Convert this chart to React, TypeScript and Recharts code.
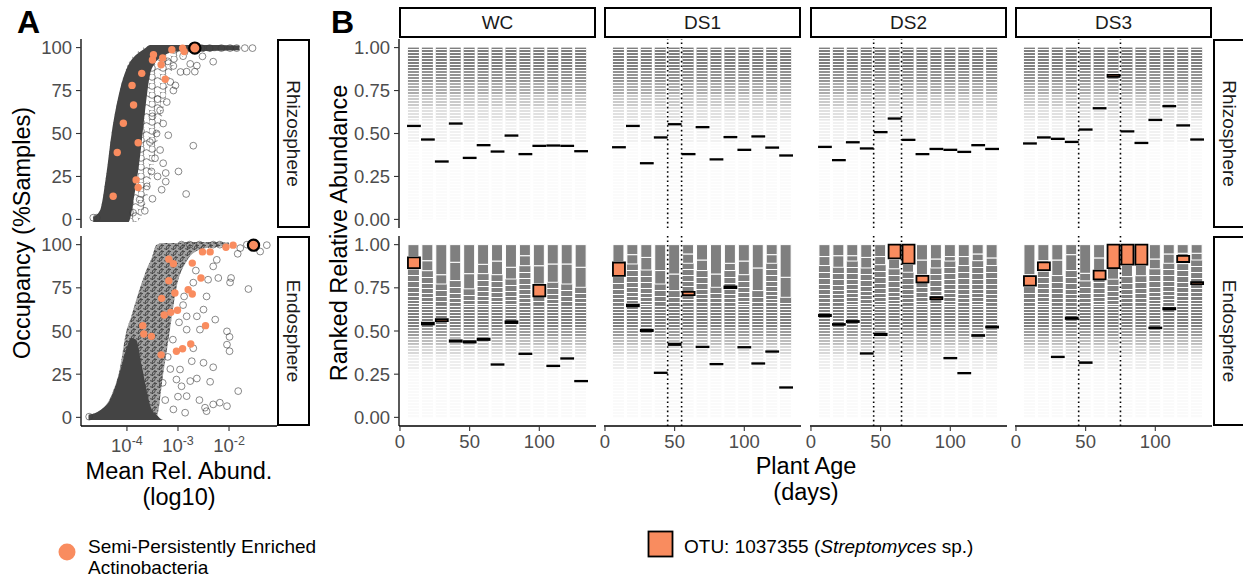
import React from "react";
import {
  Area,
  Bar,
  ComposedChart,
  ReferenceLine,
  Scatter,
  XAxis,
  YAxis,
} from "recharts";

const FONT = "'Liberation Sans', Arial, Helvetica, sans-serif";
const ORANGE = "#F98C5F";
const GRAY = "#7f7f7f";
const TICK_COLOR = "#4d4d4d";

// ---------- panel A: occupancy vs mean relative abundance ----------
const logTicks = [-4, -3, -2];
const occTicks = [0, 25, 50, 75, 100];

// envelope of the point cloud: [log10 abund, solid lo, solid hi, mesh lo, mesh hi]
const rhizoCloudRows = [
  [-4.66, -1.5, 1.5, -1.5, 1.5],
  [-4.53, -1.5, 5, -1.5, 5],
  [-4.41, -1.5, 25, -1.5, 25],
  [-4.3, -1.5, 50, -1.5, 50],
  [-4.14, -1.5, 75, -1.5, 75],
  [-3.97, -1.5, 90, -1.5, 91],
  [-3.85, 15, 95, -1.5, 96],
  [-3.75, 35, 97.5, 0, 98.5],
  [-3.65, 62, 99.5, 8, 100.5],
  [-3.55, 84, 101.5, 20, 101.5],
  [-3.45, 91, 101.5, 37, 101.5],
  [-3.3, 95, 101.5, 62, 101.5],
  [-3.1, 97.5, 101.5, 88, 101.5],
  [-2.9, 98, 101.5, 95, 101.5],
  [-2.6, 98, 101.5, 97, 101.5],
  [-2.2, 98.2, 101.5, 98, 101.5],
  [-1.8, 98.5, 101.2, 98.5, 101.2],
];

const endoCloudRows = [
  [-4.75, -1.5, 1.5, -1.5, 1.5],
  [-4.53, -1.5, 4, -1.5, 4],
  [-4.3, -1.5, 12, -1.5, 13],
  [-4.14, -1.5, 26, -1.5, 28],
  [-4.01, -1.5, 40, -1.5, 50],
  [-3.92, -1.5, 46, -1.5, 58],
  [-3.82, -1.5, 45, -1, 68],
  [-3.71, -1.5, 30, -1, 78],
  [-3.61, -1.5, 15, -1, 86],
  [-3.52, -1.5, 5, -1, 92],
  [-3.42, -1.5, 1.5, 0, 100],
  [-3.29, -1.5, -1.5, 25, 101],
  [-3.16, -1.5, -1.5, 50, 101],
  [-3.03, -1.5, -1.5, 75, 101],
  [-2.84, -1.5, -1.5, 90, 101.5],
  [-2.58, -1.5, -1.5, 97, 101.5],
  [-2.3, -1.5, -1.5, 98.5, 101.5],
  [-2.0, -1.5, -1.5, 99, 101.2],
];

// individual OTUs outside the dense cloud: [log10 abund, occupancy]
const rhizoOthers = [
  [-2.7, 42.9], [-2.84, 14.8], [-2.99, 27.9], [-3.29, 32.7], [-3.24, 22],
  [-2.31, 91.8], [-2.52, 94.9], [-2.76, 90.5], [-2.63, 89.5], [-2.95, 85.8],
  [-2.83, 86], [-2.67, 86], [-3.09, 89.3], [-3.09, 75], [-3.22, 68.3],
  [-3.35, 63.5], [-3.29, 55.8], [-3.42, 50], [-3.19, 49], [-3.35, 40.4],
  [-3.45, 35.6], [-3.24, 27], [-3.32, 17.3], [-3.52, 27.9], [-3.61, 19.2],
  [-3.75, 11.5], [-3.88, 3.9], [-4.59, 1], [-4.66, 1], [-1.54, 99.7],
  [-1.69, 99.7], [-1.85, 99.7], [-1.98, 99.7], [-2.15, 99.7], [-2.54, 99.7],
  [-2.38, 99.7], [-3.15, 80], [-3.05, 78], [-3.4, 70], [-3.5, 60],
  [-3.55, 45], [-3.4, 25], [-3.5, 12], [-3.65, 5], [-3.2, 92], [-2.9, 95],
];

const endoOthers = [
  [-4.74, 0.4], [-1.62, 74.3], [-1.82, 15.2], [-2.04, 6.5], [-2.18, 8.5],
  [-2.31, 7.5], [-2.47, 5.6], [-2.44, 3.6], [-2.58, 10], [-2.37, 20.6],
  [-2.63, 22.5], [-2.31, 29], [-1.99, 38.3], [-2.04, 42.1], [-2.04, 49.8],
  [-1.99, 46.6], [-2.27, 56.6], [-1.98, 78.1], [-1.96, 80.7], [-2.21, 80.7],
  [-2.31, 87.4], [-1.83, 94.7], [-1.39, 96], [-1.26, 99.7], [-2.57, 50.8],
  [-2.5, 31.6], [-2.76, 21], [-2.83, 12.3], [-2.93, 18], [-2.96, 27.7],
  [-2.73, 32.5], [-2.83, 50.8], [-2.83, 58.5], [-2.63, 58.5], [-2.5, 62.4],
  [-2.44, 70], [-2.41, 79.7], [-2.24, 91.2], [-2.18, 100], [-2.31, 100],
  [-2.58, 100], [-2.77, 100], [-2.93, 100], [-1.65, 100], [-1.78, 98],
  [-3.03, 21.9], [-3.0, 12], [-2.86, 2.7], [-3.09, 4.6], [-3.2, 35],
  [-3.1, 45], [-2.7, 40], [-2.9, 65], [-2.65, 85], [-3.25, 10],
  [-3.3, 20], [-3.15, 28], [-2.98, 55], [-2.88, 70], [-2.7, 78],
];

// semi-persistently enriched Actinobacteria
const rhizoEnriched = [
  [-4.27, 13.5], [-4.19, 38.9], [-4.07, 56], [-3.87, 66.6], [-3.9, 78],
  [-3.71, 85], [-3.78, 44.6], [-3.82, 23], [-3.78, 18.6], [-3.48, 95.8],
  [-3.5, 92.8], [-3.3, 94], [-3.33, 90], [-3.25, 81.6], [-3.12, 98.7],
  [-2.91, 99.7], [-2.88, 97.7],
];

const endoEnriched = [
  [-3.69, 53.1], [-3.67, 48.3], [-3.52, 46.9], [-3.33, 36.2], [-3.32, 68.9],
  [-3.27, 59.3], [-3.14, 60.8], [-3.01, 62], [-3.06, 72], [-3.18, 79.1],
  [-3.18, 91.6], [-3.09, 88.9], [-3.03, 38.3], [-2.91, 39.7], [-2.75, 42.5],
  [-2.8, 73.9], [-2.72, 71.4], [-2.72, 89.3], [-2.55, 80.7], [-2.46, 53.1],
  [-2.52, 95.8], [-2.37, 95.8], [-2.06, 98.5], [-1.92, 99.7],
];

// OTU 1037355
const rhizoTarget = [[-2.67, 99.7]];
const endoTarget = [[-1.52, 99.7]];

// ---------- panel B: ranked relative abundance over plant age ----------
const days = [10, 20, 30, 40, 50, 60, 70, 80, 90, 100, 110, 120, 130];
const dayTicks = [0, 50, 100];
const rankTicks = [0, 0.25, 0.5, 0.75, 1];
const treatments = ["WC", "DS1", "DS2", "DS3"];
const droughtWC: number[] = [];
const droughtDS1 = [45, 55];
const droughtDS2 = [45, 65];
const droughtDS3 = [45, 75];

// rhizosphere: rank position (centre) and relative abundance of the OTU
const rhizoRankWC = [0.544, 0.465, 0.337, 0.558, 0.358, 0.432, 0.395, 0.488, 0.38, 0.428, 0.43, 0.428, 0.397];
const rhizoRankDS1 = [0.42, 0.544, 0.327, 0.477, 0.554, 0.38, 0.537, 0.349, 0.479, 0.405, 0.483, 0.418, 0.372];
const rhizoRankDS2 = [0.422, 0.345, 0.449, 0.413, 0.508, 0.587, 0.463, 0.38, 0.41, 0.405, 0.393, 0.432, 0.41];
const rhizoRankDS3 = [0.442, 0.477, 0.469, 0.451, 0.523, 0.647, 0.835, 0.512, 0.445, 0.579, 0.659, 0.547, 0.465];
const rhizoSizeWC = [0.003, 0.003, 0.003, 0.003, 0.003, 0.003, 0.003, 0.003, 0.003, 0.003, 0.003, 0.003, 0.003];
const rhizoSizeDS1 = [0.003, 0.003, 0.003, 0.003, 0.003, 0.003, 0.003, 0.003, 0.003, 0.003, 0.003, 0.003, 0.003];
const rhizoSizeDS2 = [0.003, 0.003, 0.003, 0.003, 0.003, 0.003, 0.003, 0.003, 0.003, 0.003, 0.003, 0.003, 0.003];
const rhizoSizeDS3 = [0.003, 0.003, 0.003, 0.003, 0.003, 0.003, 0.012, 0.003, 0.003, 0.003, 0.003, 0.003, 0.003];

// endosphere: rank position (centre) and relative abundance of the OTU
const endoRankWC = [0.895, 0.543, 0.563, 0.442, 0.437, 0.452, 0.306, 0.551, 0.368, 0.734, 0.298, 0.341, 0.21];
const endoRankDS1 = [0.858, 0.648, 0.503, 0.258, 0.423, 0.717, 0.408, 0.308, 0.753, 0.406, 0.312, 0.381, 0.173];
const endoRankDS2 = [0.59, 0.538, 0.555, 0.37, 0.48, 0.96, 0.945, 0.8, 0.69, 0.343, 0.256, 0.474, 0.523];
const endoRankDS3 = [0.79, 0.875, 0.35, 0.574, 0.317, 0.824, 0.932, 0.942, 0.942, 0.518, 0.629, 0.917, 0.777];
const endoSizeWC = [0.062, 0.01, 0.012, 0.008, 0.008, 0.008, 0.003, 0.01, 0.003, 0.067, 0.003, 0.003, 0.003];
const endoSizeDS1 = [0.077, 0.01, 0.008, 0.003, 0.008, 0.018, 0.003, 0.003, 0.01, 0.003, 0.003, 0.003, 0.003];
const endoSizeDS2 = [0.008, 0.005, 0.006, 0.003, 0.008, 0.08, 0.11, 0.038, 0.012, 0.003, 0.003, 0.005, 0.006];
const endoSizeDS3 = [0.055, 0.045, 0.003, 0.008, 0.004, 0.05, 0.135, 0.115, 0.115, 0.004, 0.008, 0.035, 0.012];

// endosphere: lower edge of the two most abundant OTUs at each time point
const endoTop1WC = [0.931, 0.907, 0.826, 0.898, 0.832, 0.886, 0.905, 0.869, 0.936, 0.878, 0.888, 0.888, 0.869];
const endoTop2WC = [0.859, 0.849, 0.772, 0.792, 0.744, 0.832, 0.826, 0.801, 0.878, 0.772, 0.782, 0.772, 0.753];
const endoTop1DS1 = [0.902, 0.942, 0.926, 0.85, 0.83, 0.946, 0.911, 0.83, 0.892, 0.905, 0.865, 0.942, 0.811];
const endoTop2DS1 = [0.815, 0.888, 0.853, 0.772, 0.734, 0.892, 0.85, 0.753, 0.85, 0.826, 0.734, 0.892, 0.695];
const endoTop1DS2 = [0.931, 0.936, 0.936, 0.926, 0.931, 0.917, 0.885, 0.911, 0.917, 0.931, 0.931, 0.946, 0.923];
const endoTop2DS2 = [0.879, 0.869, 0.905, 0.865, 0.884, 0.86, 0.84, 0.825, 0.865, 0.905, 0.879, 0.907, 0.879];
const endoTop1DS3 = [0.826, 0.907, 0.911, 0.942, 0.834, 0.923, 0.862, 0.88, 0.88, 0.917, 0.946, 0.95, 0.95];
const endoTop2DS3 = [0.757, 0.846, 0.821, 0.85, 0.79, 0.852, 0.8, 0.815, 0.82, 0.86, 0.892, 0.89, 0.911];

// bands of the rare-OTU tail (cumulative abundance) and their shade
const rhizoBands = [0, 0.45, 0.58, 0.66, 0.73, 0.8, 0.87, 1];
const rhizoBandFill = ["#fbfbfb", "#f1f1f1", "#e0e0e0", "#cbcbcb", "#adadad", "#939393", "#7f7f7f"];
const endoBands = [0, 0.28, 0.36, 0.42, 0.47, 0.52, 0.65];
const endoBandFill = ["#fafafa", "#eeeeee", "#d8d8d8", "#bcbcbc", "#9c9c9c", "#7f7f7f"];

// ---------- layout ----------
const A_LEFT = 81;
const A_W = 196;
const ROW_TOP = [39, 236];
const ROW_H = [189, 190];
const PAD_V = 10;
const FACET_LEFT = [399, 604, 810, 1015];
const FACET_W = 197;
const dayDomain: [number, number] = [-0.7, 140.7];

const toPoints = (rows: number[][]) => rows.map(([lx, occ]) => ({ lx, occ }));
const toCloud = (rows: number[][]) =>
  rows.map(([lx, a, b, c, d]) => ({ lx, dense: [a, b], mesh: [c, d] }));

const rankLookup: Record<string, number[][]> = {
  WC: [rhizoRankWC, rhizoSizeWC, endoRankWC, endoSizeWC, endoTop1WC, endoTop2WC, droughtWC],
  DS1: [rhizoRankDS1, rhizoSizeDS1, endoRankDS1, endoSizeDS1, endoTop1DS1, endoTop2DS1, droughtDS1],
  DS2: [rhizoRankDS2, rhizoSizeDS2, endoRankDS2, endoSizeDS2, endoTop1DS2, endoTop2DS2, droughtDS2],
  DS3: [rhizoRankDS3, rhizoSizeDS3, endoRankDS3, endoSizeDS3, endoTop1DS3, endoTop2DS3, droughtDS3],
};

function facetRows(t: string, kind: "rhizo" | "endo") {
  const [rr, rs, er, es, t1, t2] = rankLookup[t];
  const bands = kind === "rhizo" ? rhizoBands : endoBands;
  const tailTop = bands[bands.length - 1];
  return days.map((day, i) => {
    const row: any = { day, lines: [0, tailTop] };
    for (let b = 0; b < bands.length - 1; b++) row["b" + b] = bands[b + 1] - bands[b];
    if (kind === "rhizo") {
      row.otu = [rr[i] - rs[i] / 2, rr[i] + rs[i] / 2];
    } else {
      row.mid = t2[i] - tailTop;
      row.t2 = t1[i] - t2[i];
      row.t1 = 1 - t1[i];
      row.otu = [er[i] - es[i] / 2, er[i] + es[i] / 2];
    }
    return row;
  });
}

const tickStyle = { fill: TICK_COLOR, fontSize: 18.5, fontFamily: FONT };
const axisLineStyle = { stroke: "#000", strokeWidth: 1.3 };
const tickLineStyle = { stroke: "#333", strokeWidth: 1.1 };

const LogTick = (props: any) => {
  const { x, y, payload } = props;
  return (
    <text x={x} y={y} textAnchor="middle" fill={TICK_COLOR} fontSize={18.5} fontFamily={FONT}>
      <tspan dy="0.9em">10</tspan>
      <tspan dy="-0.5em" fontSize={12.5}>
        {String(payload.value)}
      </tspan>
    </text>
  );
};

const openCircle = (p: any) => (
  <circle cx={p.cx} cy={p.cy} r={3.4} fill="none" stroke="#3a3a3a" strokeOpacity={0.75} strokeWidth={0.8} />
);
const orangeDot = (p: any) => <circle cx={p.cx} cy={p.cy} r={3.7} fill={ORANGE} />;
const targetDot = (p: any) => (
  <circle cx={p.cx} cy={p.cy} r={5.6} fill={ORANGE} stroke="#000" strokeWidth={2.2} />
);

// tiles below the two largest ones, getting thinner downwards
const midShape = (p: any) => {
  const top = Math.round(p.y);
  const h = Math.round(p.height);
  if (!(h > 0)) return <g />;
  const tiles = [];
  let y = 0;
  let k = 0;
  while (y < h) {
    const step = Math.round(7 - (4 * y) / Math.max(h, 1));
    tiles.push(<rect key={k++} x={p.x} y={top + y} width={p.width} height={Math.min(step - 1, h - y)} fill={GRAY} />);
    y += step;
  }
  return <g>{tiles}</g>;
};

function OccupancyPanel(props: {
  cloud: any[];
  others: any[];
  enriched: any[];
  target: any[];
  row: number;
  mesh: string;
}) {
  const { cloud, others, enriched, target, row, mesh } = props;
  const showX = row === 1;
  const yw = 64;
  const xh = showX ? 36 : 0;
  return (
    <div style={{ position: "absolute", left: A_LEFT - yw, top: ROW_TOP[row] - PAD_V }}>
      <ComposedChart
        width={A_W + yw}
        height={ROW_H[row] + xh + 2 * PAD_V}
        data={cloud}
        margin={{ top: PAD_V, right: 0, bottom: PAD_V, left: 0 }}
      >
        <XAxis
          type="number"
          dataKey="lx"
          domain={[-4.9, -1.06]}
          allowDataOverflow
          ticks={logTicks}
          interval={0}
          hide={!showX}
          height={xh}
          tick={<LogTick />}
          tickSize={5}
          tickMargin={4}
          axisLine={axisLineStyle}
          tickLine={tickLineStyle}
        />
        <YAxis
          type="number"
          dataKey="occ"
          domain={[-5, 105]}
          allowDataOverflow
          ticks={occTicks}
          interval={0}
          width={yw}
          tick={tickStyle}
          tickSize={5}
          tickMargin={4}
          axisLine={axisLineStyle}
          tickLine={tickLineStyle}
        />
        <Area dataKey="mesh" type="monotone" stroke="none" fill={`url(#${mesh})`} fillOpacity={1} isAnimationActive={false} />
        <Area dataKey="dense" type="monotone" stroke="none" fill="#444" fillOpacity={1} isAnimationActive={false} />
        <Scatter data={others} shape={openCircle} isAnimationActive={false} />
        <Scatter data={enriched} shape={orangeDot} isAnimationActive={false} />
        <Scatter data={target} shape={targetDot} isAnimationActive={false} />
      </ComposedChart>
    </div>
  );
}

function RankFacet(props: { t: string; col: number; row: number }) {
  const { t, col, row } = props;
  const kind = row === 0 ? "rhizo" : "endo";
  const rows = facetRows(t, kind);
  const fills = kind === "rhizo" ? rhizoBandFill : endoBandFill;
  const drought = rankLookup[t][6];
  const showY = col === 0;
  const showX = row === 1;
  const yw = showY ? 64 : 0;
  const pad = showY ? 0 : 14;
  const xh = showX ? 36 : 0;
  return (
    <div style={{ position: "absolute", left: FACET_LEFT[col] - yw - pad, top: ROW_TOP[row] - PAD_V }}>
      <ComposedChart
        width={FACET_W + yw + pad}
        height={ROW_H[row] + xh + 2 * PAD_V}
        data={rows}
        margin={{ top: PAD_V, right: 0, bottom: PAD_V, left: pad }}
      >
        <XAxis
          xAxisId="bg"
          type="number"
          dataKey="day"
          domain={dayDomain}
          allowDataOverflow
          ticks={dayTicks}
          interval={0}
          hide={!showX}
          height={xh}
          tick={tickStyle}
          tickSize={5}
          tickMargin={4}
          axisLine={axisLineStyle}
          tickLine={tickLineStyle}
        />
        <XAxis xAxisId="lines" type="number" dataKey="day" domain={dayDomain} allowDataOverflow hide />
        <XAxis xAxisId="otu" type="number" dataKey="day" domain={dayDomain} allowDataOverflow hide />
        <YAxis
          type="number"
          domain={[-0.05, 1.05]}
          allowDataOverflow
          ticks={rankTicks}
          interval={0}
          tickFormatter={(v: number) => v.toFixed(2)}
          hide={!showY}
          width={yw}
          tick={tickStyle}
          tickSize={5}
          tickMargin={4}
          axisLine={axisLineStyle}
          tickLine={tickLineStyle}
        />
        {fills.map((c, b) => (
          <Bar key={"b" + b} xAxisId="bg" dataKey={"b" + b} stackId="bg" barSize={11} fill={c} isAnimationActive={false} />
        ))}
        {kind === "endo" && <Bar xAxisId="bg" dataKey="mid" stackId="bg" barSize={11} shape={midShape} isAnimationActive={false} />}
        {kind === "endo" && <Bar xAxisId="bg" dataKey="t2" stackId="bg" barSize={11} fill={GRAY} stroke="#fff" strokeWidth={1} isAnimationActive={false} />}
        {kind === "endo" && <Bar xAxisId="bg" dataKey="t1" stackId="bg" barSize={11} fill={GRAY} stroke="#fff" strokeWidth={1} isAnimationActive={false} />}
        <Bar xAxisId="lines" dataKey="lines" barSize={11} fill="url(#whiteLines)" isAnimationActive={false} />
        <Bar xAxisId="otu" dataKey="otu" barSize={12} fill={ORANGE} stroke="#000" strokeWidth={1.8} isAnimationActive={false} />
        {drought.map((d) => (
          <ReferenceLine key={d} xAxisId="bg" x={d} stroke="#000" strokeWidth={1.6} strokeDasharray="1.6 3" />
        ))}
      </ComposedChart>
    </div>
  );
}

function Strip(props: { x: number; y: number; w: number; h: number; label: string; vertical?: boolean }) {
  const { x, y, w, h, label, vertical } = props;
  const cx = x + w / 2;
  const cy = y + h / 2;
  return (
    <g>
      <rect x={x + 1} y={y + 1} width={w - 2} height={h - 2} fill="#fff" stroke="#000" strokeWidth={2} />
      {vertical ? (
        <text transform={`translate(${cx},${cy}) rotate(90)`} x={0} y={6.8} textAnchor="middle" fontSize={19} fill="#1a1a1a">
          {label}
        </text>
      ) : (
        <text x={cx} y={cy + 6.8} textAnchor="middle" fontSize={19} fill="#1a1a1a">
          {label}
        </text>
      )}
    </g>
  );
}

export default function App() {
  const rowNames = ["Rhizosphere", "Endosphere"];
  return (
    <div
      style={{
        position: "absolute",
        left: 0,
        top: 0,
        width: 1243,
        height: 579,
        overflow: "hidden",
        background: "#fff",
        fontFamily: FONT,
      }}
    >
      <svg width={1243} height={579} style={{ position: "absolute", left: 0, top: 0 }} fontFamily={FONT}>
        <defs>
          <pattern id="whiteLines" width="8" height="3" patternUnits="userSpaceOnUse">
            <rect y="2" width="8" height="1" fill="#fff" />
          </pattern>
          <pattern id="meshLight" width="11" height="9" patternUnits="userSpaceOnUse">
            <circle cx="3" cy="3" r="3.3" fill="none" stroke="#3a3a3a" strokeOpacity={0.8} strokeWidth={0.8} />
            <circle cx="8.5" cy="7" r="3.3" fill="none" stroke="#3a3a3a" strokeOpacity={0.8} strokeWidth={0.8} />
          </pattern>
          <pattern id="meshDense" width="7" height="6" patternUnits="userSpaceOnUse">
            <rect width="7" height="6" fill="#444" fillOpacity={0.5} />
            <circle cx="2" cy="2" r="3.3" fill="none" stroke="#333" strokeWidth={0.8} />
            <circle cx="5.5" cy="4.5" r="3.3" fill="none" stroke="#333" strokeWidth={0.8} />
          </pattern>
        </defs>

        <text x={17} y={33} fontSize={32} fontWeight="bold" fill="#000">A</text>
        <text x={331} y={33} fontSize={32} fontWeight="bold" fill="#000">B</text>

        {rowNames.map((n, r) => (
          <Strip key={"a" + n} x={277} y={ROW_TOP[r]} w={33} h={ROW_H[r]} label={n} vertical />
        ))}
        {rowNames.map((n, r) => (
          <Strip key={"b" + n} x={1213} y={ROW_TOP[r]} w={33} h={ROW_H[r]} label={n} vertical />
        ))}
        {treatments.map((t, c) => (
          <Strip key={t} x={FACET_LEFT[c]} y={7} w={FACET_W} h={31} label={t} />
        ))}

        <text transform="translate(22,233) rotate(-90)" x={0} y={8.4} textAnchor="middle" fontSize={23.5} fill="#000">
          Occupancy (%Samples)
        </text>
        <text transform="translate(339,233) rotate(-90)" x={0} y={8.4} textAnchor="middle" fontSize={23.5} fill="#000">
          Ranked Relative Abundance
        </text>
        <text x={179} y={478.5} textAnchor="middle" fontSize={23.5} fill="#000">Mean Rel. Abund.</text>
        <text x={179} y={504.5} textAnchor="middle" fontSize={23.5} fill="#000">(log10)</text>
        <text x={806} y={474} textAnchor="middle" fontSize={23.5} fill="#000">Plant Age</text>
        <text x={806} y={500} textAnchor="middle" fontSize={23.5} fill="#000">(days)</text>

        <circle cx={67} cy={552} r={8.5} fill={ORANGE} />
        <text x={88} y={553} fontSize={19} fill="#000">Semi-Persistently Enriched</text>
        <text x={88} y={574} fontSize={19} fill="#000">Actinobacteria</text>

        <rect x={648.5} y={531.5} width={24} height={25} fill={ORANGE} stroke="#000" strokeWidth={1.8} />
        <text x={684} y={553} fontSize={19} fill="#000">
          OTU: 1037355 (<tspan fontStyle="italic">Streptomyces</tspan> sp.)
        </text>
      </svg>

      <OccupancyPanel row={0} mesh="meshLight" cloud={toCloud(rhizoCloudRows)} others={toPoints(rhizoOthers)} enriched={toPoints(rhizoEnriched)} target={toPoints(rhizoTarget)} />
      <OccupancyPanel row={1} mesh="meshDense" cloud={toCloud(endoCloudRows)} others={toPoints(endoOthers)} enriched={toPoints(endoEnriched)} target={toPoints(endoTarget)} />

      {treatments.map((t, c) => (
        <React.Fragment key={t}>
          <RankFacet t={t} col={c} row={0} />
          <RankFacet t={t} col={c} row={1} />
        </React.Fragment>
      ))}
    </div>
  );
}
